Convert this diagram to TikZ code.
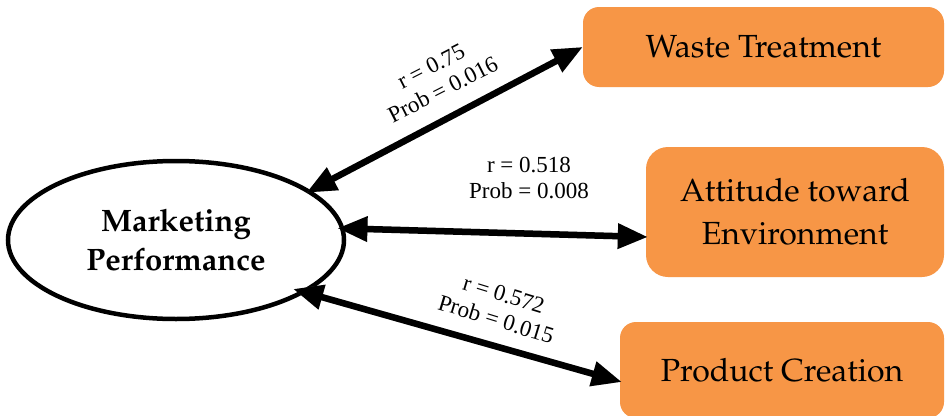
\documentclass[tikz,border=0pt]{standalone}
\usepackage[T1]{fontenc}
\usepackage{fontspec}
\newfontfamily\timesf{Liberation Serif}
\newcommand\palafont{\fontencoding{T1}\fontfamily{ppl}\selectfont}
\usetikzlibrary{arrows.meta,shapes.geometric,calc}
\definecolor{boxorange}{HTML}{F79646}
\tikzset{
  box/.style={rectangle, rounded corners=16pt, fill=boxorange, draw=none,
    font=\palafont\fontsize{32}{43}\selectfont, align=center, inner sep=0pt},
  link/.style={line width=6.5pt, draw=black,
    {Triangle[length=30pt,width=24pt]}-{Triangle[length=30pt,width=24pt]}},
  linkshadow/.style={link, draw=black!45, fill=black!45, opacity=.4},
  lab/.style={font=\timesf\fontsize{23}{26}\selectfont, align=center, inner sep=0pt},
}
\begin{document}
\begin{tikzpicture}[x=1pt,y=-1pt]
\clip (0,0) rectangle (945,415);
\fill[white] (0,0) rectangle (945,415);
% nodes
\node[box, minimum width=361pt, minimum height=80pt] (wt) at (763.5,47) {Waste Treatment};
\node[box, rounded corners=22pt, minimum width=298pt, minimum height=130pt] (at) at (795,212) {Attitude toward\\Environment};
\node[box, minimum width=324pt, minimum height=96pt] (pc) at (782,370) {Product Creation};
\node[ellipse, draw, line width=4.5pt, minimum width=336pt, minimum height=158pt,
  font=\palafont\bfseries\fontsize{31}{39}\selectfont, align=center] (mp) at (176,240) {Marketing\\Performance};
% endpoints
\coordinate (a1) at ([xshift=-5pt,yshift=-2pt]mp.20);
\coordinate (a2) at ([xshift=-7pt]mp.4);
\coordinate (a3) at ([xshift=-10pt,yshift=5pt]mp.-23);
\coordinate (b2) at ([xshift=2pt,yshift=-25pt]at.west);
\coordinate (b3) at ([xshift=2pt,yshift=-12pt]pc.west);
% shadows
\begin{scope}[shift={(3,4)}]
\draw[linkshadow] (a1) -- (wt.west);
\draw[linkshadow] (a2) -- (b2);
\draw[linkshadow] (a3) -- (b3);
\end{scope}
% connectors
\draw[link] (a1) -- (wt.west);
\draw[link] (a2) -- (b2);
\draw[link] (a3) -- (b3);
% labels
\node[lab, rotate=27] (l1) at (437,78) {r = 0.75\\Prob = 0.016};
\node[lab] (l2) at (529,178) {r = 0.518\\Prob = 0.008};
\node[lab, rotate=-17] (l3) at (500,307) {r = 0.572\\Prob = 0.015};
\end{tikzpicture}
\end{document}
